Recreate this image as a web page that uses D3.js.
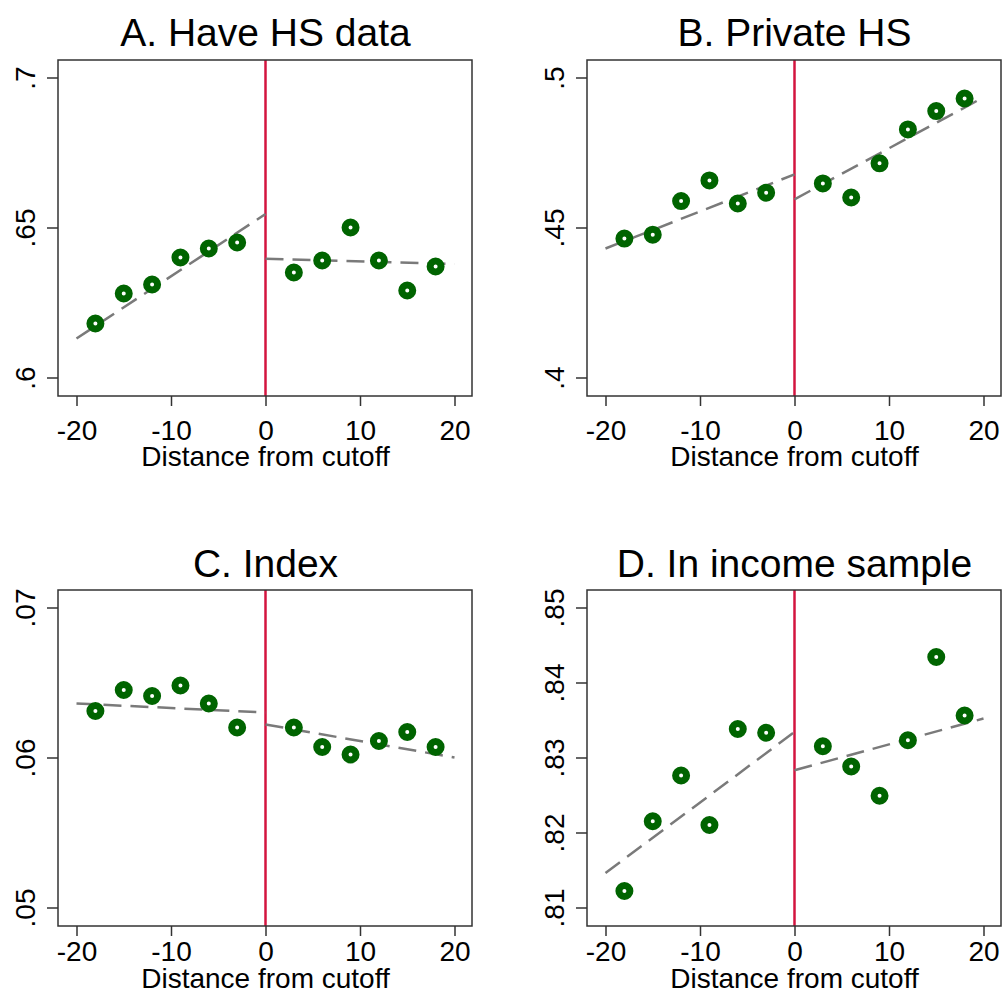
<!DOCTYPE html>
<html>
<head>
<meta charset="utf-8">
<script src="https://cdn.jsdelivr.net/npm/d3@7"></script>
<style>
  html, body { margin: 0; padding: 0; background: #fff; }
  svg text { font-family: "Liberation Sans", Arial, Helvetica, sans-serif; fill: #000; }
</style>
</head>
<body>
<svg id="chart" width="1003" height="1003"></svg>
<script>
// Bin midpoints (distance from cutoff)
const bins = [-18, -15, -12, -9, -6, -3, 3, 6, 9, 12, 15, 18];

// Bin means for each outcome
const haveHSData   = [0.618, 0.628, 0.631, 0.640, 0.643, 0.645, 0.635, 0.639, 0.650, 0.639, 0.629, 0.637];
const privateHS    = [0.4463, 0.4476, 0.4588, 0.4657, 0.4580, 0.4616, 0.4647, 0.4600, 0.4714, 0.4827, 0.4888, 0.4930];
const indexScore   = [0.0631, 0.0645, 0.0641, 0.0648, 0.0636, 0.0620, 0.0620, 0.0607, 0.0602, 0.0611, 0.0617, 0.0607];
const incomeSample = [0.8122, 0.8215, 0.8276, 0.8210, 0.8338, 0.8333, 0.8315, 0.8288, 0.8249, 0.8323, 0.8434, 0.8356];

// Linear fits on each side of the cutoff: values at x = -20 and x = 0 (left), x = 0 and x = 20 (right)
const fitX_left  = [-20, 0];
const fitX_right = [0, 20];
const fitA_left = [0.613, 0.6545], fitA_right = [0.6396, 0.6378];
const fitB_left = [0.443, 0.4677], fitB_right = [0.4594, 0.4934];
const fitC_left = [0.0636, 0.0630], fitC_right = [0.0622, 0.0600];
const fitD_left = [0.8146, 0.8334], fitD_right = [0.8283, 0.8352];

// Axis ticks
const xTicks  = [-20, -10, 0, 10, 20];
const yTicksA = [0.6, 0.65, 0.7];
const yTicksB = [0.4, 0.45, 0.5];
const yTicksC = [0.05, 0.06, 0.07];
const yTicksD = [0.81, 0.82, 0.83, 0.84, 0.85];

const titles = ["A. Have HS data", "B. Private HS", "C. Index", "D. In income sample"];
const xTitle = "Distance from cutoff";

const panels = [
  { title: titles[0], values: haveHSData,   yTicks: yTicksA, fitL: fitA_left, fitR: fitA_right, left: 58,  top: 60,  row: 0 },
  { title: titles[1], values: privateHS,    yTicks: yTicksB, fitL: fitB_left, fitR: fitB_right, left: 587, top: 60,  row: 0 },
  { title: titles[2], values: indexScore,   yTicks: yTicksC, fitL: fitC_left, fitR: fitC_right, left: 58,  top: 590, row: 1 },
  { title: titles[3], values: incomeSample, yTicks: yTicksD, fitL: fitD_left, fitR: fitD_right, left: 587, top: 590, row: 1 }
];

const frameW = 414, frameH = 336;
const green = "#006400", red = "#d3143f", grey = "#7a7a7a";

const svg = d3.select("#chart");

// ".65" style labels without the leading zero
const fmt = v => (+v.toFixed(3)).toString().replace(/^0/, "");

panels.forEach(p => {
  const g = svg.append("g").attr("transform", `translate(${p.left},${p.top})`);

  const x = d3.scaleLinear().domain([-20, 20]).range([18.5, frameW - 17.5]);
  const yMin = p.yTicks[0], yMax = p.yTicks[p.yTicks.length - 1];
  const y = d3.scaleLinear().domain([yMin, yMax]).range([frameH - 18.5, 17.5]);

  // Title
  g.append("text")
    .attr("x", x(0)).attr("y", p.row === 0 ? -14 : -13)
    .attr("text-anchor", "middle")
    .style("font-size", "39px")
    .text(p.title);

  // Y axis, labels rotated to read upward
  const yAxis = g.append("g")
    .call(d3.axisLeft(y).tickValues(p.yTicks).tickFormat(fmt).tickSize(11).tickSizeOuter(0));
  yAxis.select(".domain").remove();
  yAxis.selectAll(".tick line").attr("stroke", "#333").attr("stroke-width", 1.5);
  yAxis.selectAll(".tick text")
    .attr("transform", "rotate(-90)")
    .attr("x", 0).attr("y", -23.5).attr("dy", 0)
    .attr("text-anchor", "middle")
    .style("font-size", "28px");

  // X axis
  const xAxis = g.append("g")
    .attr("transform", `translate(0,${frameH})`)
    .call(d3.axisBottom(x).tickValues(xTicks).tickFormat(d => String(d)).tickSize(10).tickSizeOuter(0));
  xAxis.select(".domain").remove();
  xAxis.selectAll(".tick line").attr("stroke", "#333").attr("stroke-width", 1.5);
  xAxis.selectAll(".tick text")
    .attr("y", p.row === 0 ? 44 : 35).attr("dy", 0)
    .style("font-size", "28px");

  // X axis title
  g.append("text")
    .attr("x", x(0)).attr("y", frameH + (p.row === 0 ? 70 : 62))
    .attr("text-anchor", "middle")
    .style("font-size", "28px")
    .text(xTitle);

  // Cutoff line
  g.append("line")
    .attr("x1", x(0)).attr("x2", x(0))
    .attr("y1", 0).attr("y2", frameH)
    .attr("stroke", red).attr("stroke-width", 2.5);

  // Fitted lines
  const line = d3.line().x(d => x(d[0])).y(d => y(d[1]));
  [[fitX_left, p.fitL], [fitX_right, p.fitR]].forEach(([xs, ys]) => {
    g.append("path")
      .datum(xs.map((xv, i) => [xv, ys[i]]))
      .attr("d", line)
      .attr("fill", "none")
      .attr("stroke", grey)
      .attr("stroke-width", 2.5)
      .attr("stroke-dasharray", "18,9");
  });

  // Bin means
  g.selectAll("circle.pt")
    .data(bins.map((b, i) => [b, p.values[i]]))
    .join("circle")
    .attr("class", "pt")
    .attr("cx", d => x(d[0]))
    .attr("cy", d => y(d[1]))
    .attr("r", 5.5)
    .attr("fill", "#fff")
    .attr("stroke", green)
    .attr("stroke-width", 7);

  // Plot frame
  g.append("rect")
    .attr("x", 0).attr("y", 0)
    .attr("width", frameW).attr("height", frameH)
    .attr("fill", "none")
    .attr("stroke", "#333")
    .attr("stroke-width", 1.5);
});
</script>
</body>
</html>
